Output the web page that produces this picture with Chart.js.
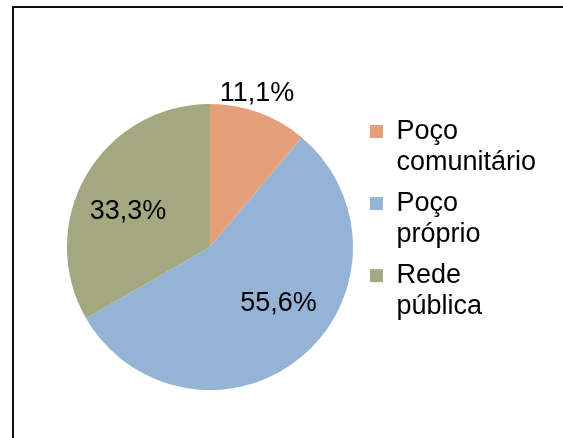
<!DOCTYPE html>
<html>
<head>
<meta charset="utf-8">
<script src="https://cdn.jsdelivr.net/npm/chart.js@4/dist/chart.umd.min.js"></script>
<style>
  html, body { margin: 0; padding: 0; background: #fff; }
  #wrap { position: relative; width: 563px; height: 438px; overflow: hidden; background: #fff; }
  #frame { position: absolute; left: 12px; top: 6px; width: 600px; height: 500px; border-left: 2px solid #111; border-top: 2px solid #111; box-sizing: border-box; }
  #c { position: absolute; left: 0; top: 0; }
</style>
</head>
<body>
<div id="wrap">
  <div id="frame"></div>
  <canvas id="c" width="563" height="438"></canvas>
</div>
<script>
// Data
const categories = ['Poço comunitário', 'Poço próprio', 'Rede pública'];
const shares = [11.1, 55.6, 33.3];
const sliceColors = ['#E5A07A', '#94B3D5', '#A3A880'];
// Label placement relative to each slice: angular offset (deg) and radius fraction
const labelAngleOffset = [-2.9, -10.7, -6.9];
const labelRadiusFactor = [1.119, 0.619, 0.624];

const FONT = "'Liberation Sans', Arial, sans-serif";

const pctLabels = {
  id: 'pctLabels',
  afterDatasetsDraw(chart) {
    const ctx = chart.ctx;
    const meta = chart.getDatasetMeta(0);
    ctx.save();
    ctx.font = '27px ' + FONT;
    ctx.fillStyle = '#000';
    ctx.textAlign = 'center';
    ctx.textBaseline = 'middle';
    meta.data.forEach((arc, i) => {
      const p = arc.getProps(['x', 'y', 'startAngle', 'endAngle', 'outerRadius'], true);
      const mid = (p.startAngle + p.endAngle) / 2 + labelAngleOffset[i] * Math.PI / 180;
      const r = p.outerRadius * labelRadiusFactor[i];
      const txt = chart.data.datasets[0].data[i].toFixed(1).replace('.', ',') + '%';
      ctx.fillText(txt, p.x + Math.cos(mid) * r, p.y + Math.sin(mid) * r);
    });
    ctx.restore();
  }
};

new Chart(document.getElementById('c'), {
  type: 'pie',
  data: {
    labels: categories,
    datasets: [{
      data: shares,
      backgroundColor: sliceColors,
      borderWidth: 0
    }]
  },
  options: {
    responsive: false,
    animation: false,
    color: '#000',
    layout: { padding: { left: 60, top: 104, bottom: 48, right: 17 } },
    plugins: {
      tooltip: { enabled: false },
      legend: {
        position: 'right',
        align: 'start',
        title: { display: true, text: ' ', color: '#000', font: { size: 1, lineHeight: 1 }, padding: { top: 3, bottom: 0 } },
        labels: {
          color: '#000',
          font: { family: FONT, size: 27, lineHeight: 1.15 },
          boxWidth: 13,
          boxHeight: 13,
          padding: 10,
          generateLabels(chart) {
            const ds = chart.data.datasets[0];
            return chart.data.labels.map((lab, i) => {
              const k = lab.indexOf(' ');
              return {
                text: [lab.slice(0, k), lab.slice(k + 1)],
                fillStyle: ds.backgroundColor[i],
                strokeStyle: ds.backgroundColor[i],
                fontColor: '#000',
                lineWidth: 0,
                hidden: false,
                index: i
              };
            });
          }
        }
      }
    }
  },
  plugins: [pctLabels]
});
</script>
</body>
</html>
